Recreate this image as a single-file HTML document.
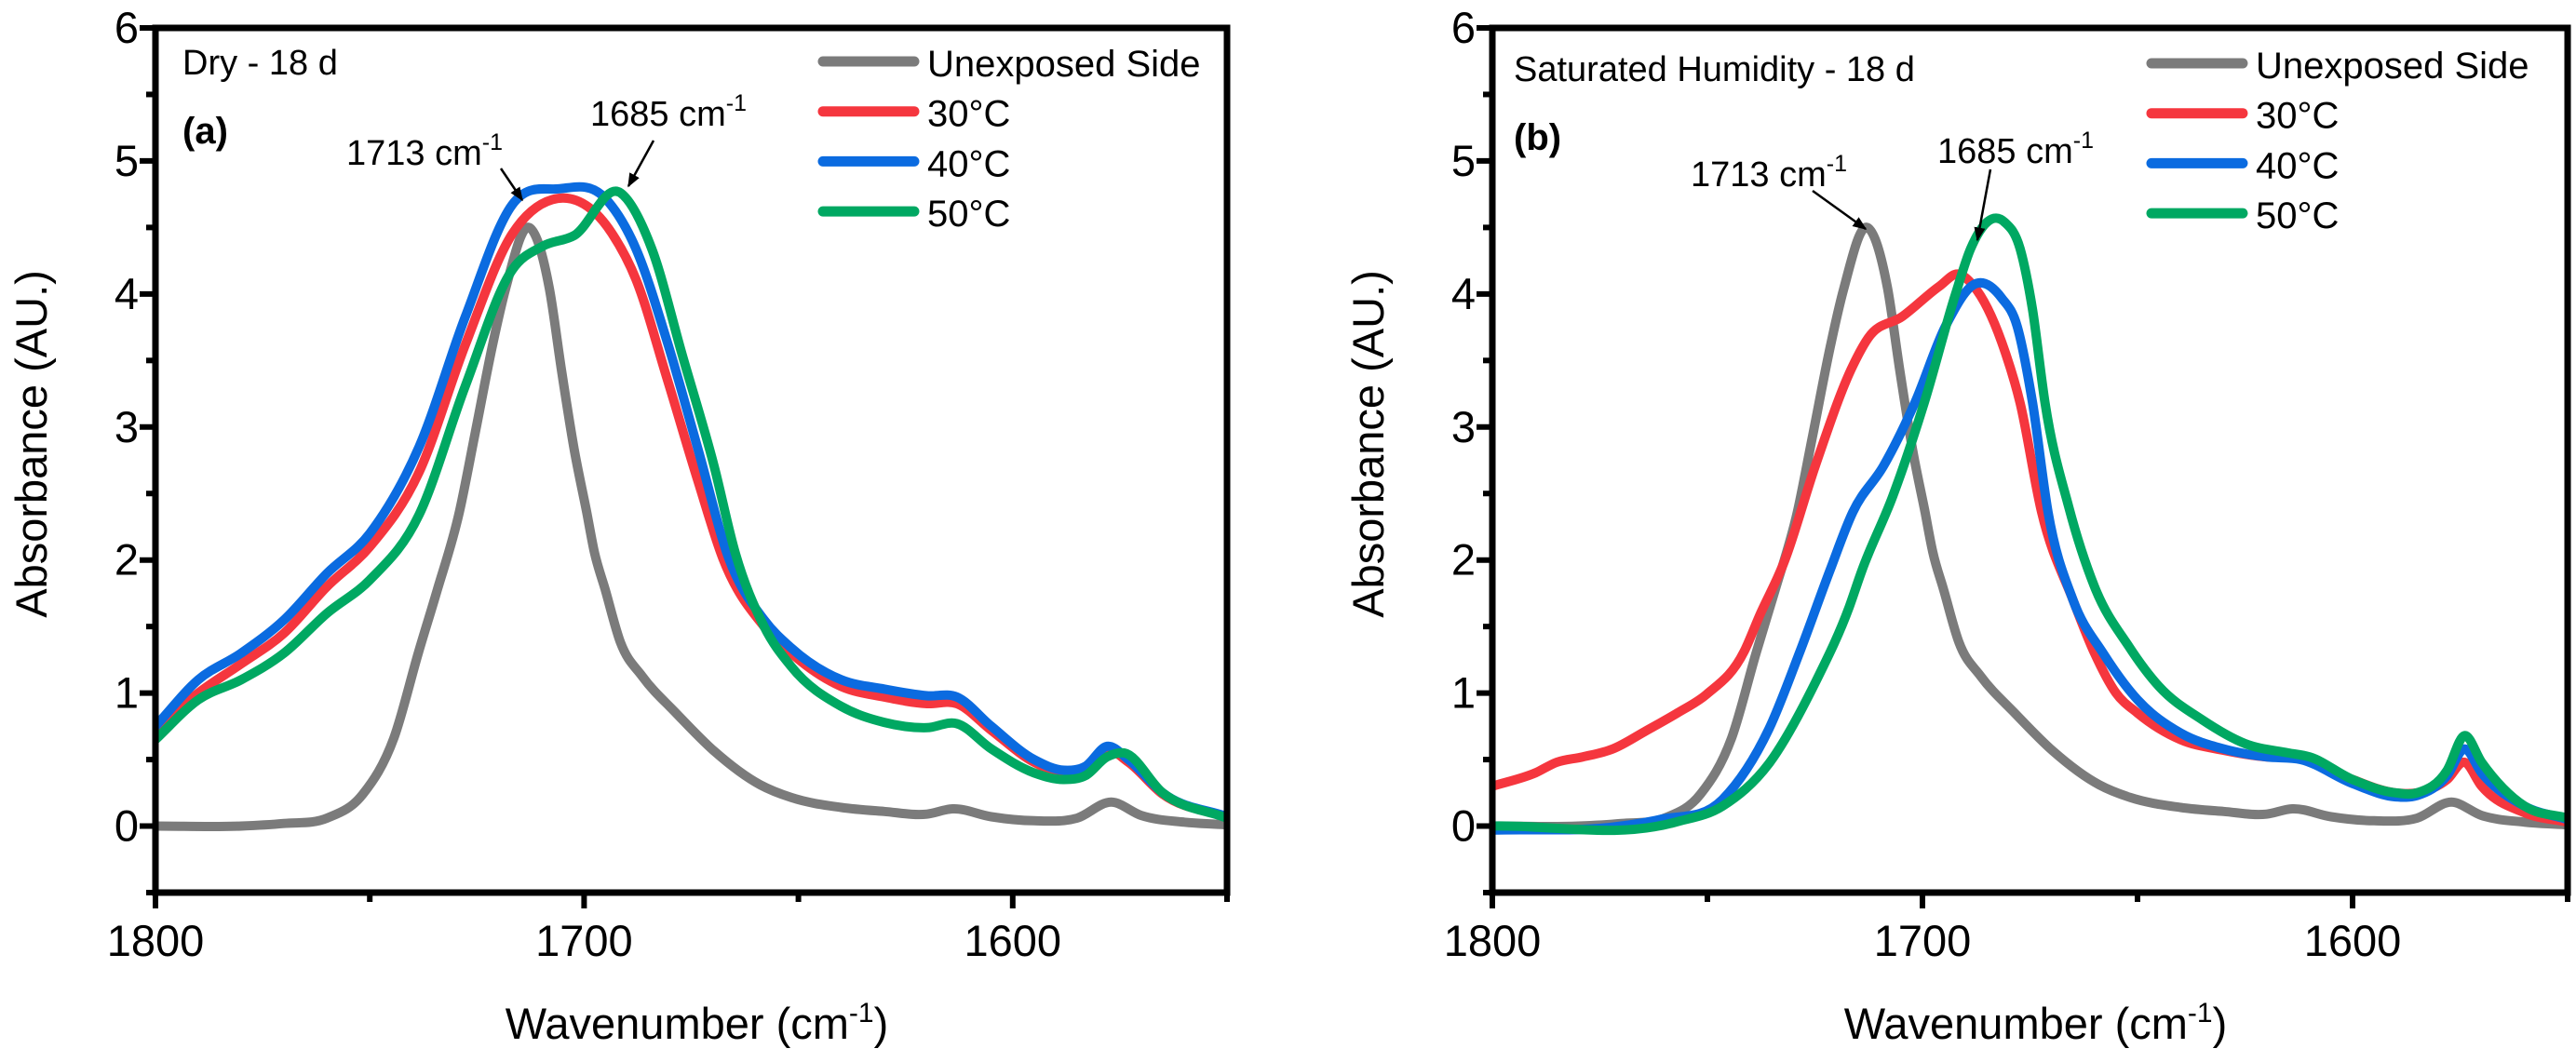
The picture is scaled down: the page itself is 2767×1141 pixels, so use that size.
<!DOCTYPE html>
<html><head><meta charset="utf-8">
<style>
html,body{margin:0;padding:0;background:#fff;}
svg text{font-family:"Liberation Sans",Arial,sans-serif;fill:#000;}
</style></head>
<body>
<svg id="chart" width="2767" height="1136" viewBox="0 0 2767 1136" xmlns="http://www.w3.org/2000/svg">
<defs>
<marker id="ah" viewBox="0 0 10 10" refX="9" refY="5" markerWidth="6" markerHeight="6" orient="auto"><path d="M0,1 L10,5 L0,9 z" fill="#000"/></marker>
</defs>
</svg>
<script>
const grayWn=[1800,1780,1770,1760,1751.6,1744.4,1738.6,1734.2,1729.1,1725.5,1721.2,1718.3,1712.8,1708.1,1705.2,1702.3,1699.4,1697.6,1695.1,1691.5,1686.4,1678.4,1669.7,1658.9,1651.7,1640,1630,1620,1614,1605,1595,1585,1577,1570,1560,1550];
const grayAbs=[0,0,0.02,0.06,0.24,0.66,1.31,1.78,2.36,2.94,3.64,4.04,4.5,4.04,3.41,2.83,2.36,2.06,1.78,1.38,1.125,0.845,0.565,0.31,0.215,0.14,0.11,0.09,0.13,0.07,0.04,0.06,0.18,0.08,0.03,0.01];
const aBlueWn=[1800,1790,1780,1770,1760,1750,1738.5,1727.7,1716.8,1706,1695.1,1687.9,1680.6,1673.4,1666.2,1658,1651.7,1640,1630,1620,1613,1605,1595,1588,1583,1578,1573,1565,1550];
const aBlueAbs=[0.75,1.1,1.3,1.55,1.9,2.2,2.85,3.83,4.67,4.79,4.72,4.34,3.64,2.83,2.01,1.55,1.34,1.1,1.03,0.98,0.97,0.75,0.5,0.42,0.45,0.6,0.5,0.25,0.07];
const aRedWn=[1800,1790,1780,1770,1760,1750,1738.5,1727.7,1716.8,1707.4,1693.6,1687.9,1680.6,1673.4,1667.6,1658,1651.7,1640,1630,1620,1613,1605,1595,1588,1583,1578,1573,1565,1550];
const aRedAbs=[0.72,1.0,1.22,1.45,1.8,2.1,2.66,3.62,4.45,4.71,4.46,4.11,3.36,2.59,2.01,1.5,1.3,1.05,0.97,0.92,0.92,0.72,0.48,0.4,0.43,0.57,0.48,0.24,0.07];
const aGreenWn=[1800,1790,1780,1770,1760,1750,1738.5,1727.7,1716.8,1709.6,1702.3,1691.5,1684.2,1677,1669.7,1664.7,1658,1651.7,1640,1630,1620,1613,1605,1595,1588,1583,1578,1574,1565,1550];
const aGreenAbs=[0.65,0.95,1.1,1.3,1.6,1.85,2.34,3.31,4.18,4.36,4.44,4.76,4.34,3.53,2.71,2.05,1.5,1.2,0.9,0.78,0.74,0.77,0.58,0.4,0.35,0.38,0.52,0.55,0.25,0.06];
const bRedWn=[1800,1790,1785,1779,1772,1764.6,1757,1750.2,1741.5,1737.9,1732.1,1724.9,1716.2,1712.6,1704.7,1696,1691.7,1688.1,1681.6,1677.3,1672.3,1665,1660,1655,1650,1640,1630,1620,1612,1600,1590,1585,1578,1574,1570,1560,1550];
const bRedAbs=[0.3,0.4,0.48,0.52,0.58,0.71,0.85,0.99,1.31,1.58,1.99,2.71,3.46,3.67,3.83,4.06,4.15,4.06,3.64,3.18,2.36,1.7,1.3,1.0,0.85,0.65,0.57,0.52,0.52,0.35,0.25,0.25,0.35,0.48,0.3,0.1,0.03];
const bBlueWn=[1800,1770,1761,1746.5,1735.7,1728.5,1721.3,1716.2,1709,1701.8,1694.6,1687.4,1681.6,1678,1674.4,1670.8,1665,1658,1650,1640,1630,1620,1612,1600,1590,1585,1578,1574,1570,1560,1550];
const bBlueAbs=[-0.03,0,0.05,0.2,0.73,1.31,1.94,2.36,2.71,3.18,3.76,4.08,3.97,3.76,3.18,2.36,1.7,1.3,0.95,0.7,0.58,0.52,0.5,0.32,0.22,0.23,0.38,0.58,0.4,0.15,0.05];
const bGreenWn=[1800,1757.4,1746.5,1735.7,1724.9,1717,1714.1,1706.9,1699.6,1692.4,1688.8,1680.9,1677.3,1674.4,1671.5,1666,1660,1652,1645,1635,1625,1615,1610,1600,1590,1585,1578,1574,1570,1560,1550];
const bGreenAbs=[0,0.03,0.15,0.47,1.08,1.65,1.92,2.48,3.18,3.99,4.34,4.54,4.34,3.88,3.18,2.4,1.8,1.35,1.05,0.8,0.62,0.55,0.52,0.35,0.25,0.25,0.42,0.68,0.48,0.15,0.06];
const yTicks=[0,1,2,3,4,5,6];
const xTicks=[1800,1700,1600];
const legendLabels=["Unexposed Side","30°C","40°C","50°C"];
const colors=["#7b7b7b","#f5363e","#0b6be0","#00a862"];

const NS="http://www.w3.org/2000/svg";
const svg=document.getElementById('chart');
function el(tag,attrs,parent){const e=document.createElementNS(NS,tag);for(const k in attrs)e.setAttribute(k,attrs[k]);(parent||svg).appendChild(e);return e;}
function smooth(pts){
 const n=pts.length,m=[];
 for(let i=0;i<n;i++){
  if(i===0){m.push((pts[1][1]-pts[0][1])/(pts[1][0]-pts[0][0]));continue;}
  if(i===n-1){m.push((pts[i][1]-pts[i-1][1])/(pts[i][0]-pts[i-1][0]));continue;}
  const h0=pts[i][0]-pts[i-1][0],h1=pts[i+1][0]-pts[i][0];
  const d0=(pts[i][1]-pts[i-1][1])/h0,d1=(pts[i+1][1]-pts[i][1])/h1;
  m.push((d0*h1+d1*h0)/(h0+h1));
 }
 let d="M"+pts[0][0].toFixed(1)+","+pts[0][1].toFixed(1);
 for(let i=0;i<n-1;i++){const h=pts[i+1][0]-pts[i][0];
  const c1=[pts[i][0]+h/3,pts[i][1]+m[i]*h/3],c2=[pts[i+1][0]-h/3,pts[i+1][1]-m[i+1]*h/3];
  d+=" C"+c1[0].toFixed(1)+","+c1[1].toFixed(1)+" "+c2[0].toFixed(1)+","+c2[1].toFixed(1)+" "+pts[i+1][0].toFixed(1)+","+pts[i+1][1].toFixed(1);}
 return d;}

function panel(cfg){
 const L=cfg.left,R=cfg.right,T=30,B=959;
 const xs=v=>L+(1800-v)/(250)*(R-L);
 const ys=v=>B-(v+0.5)/6.5*(B-T);
 const g=el('g',{});
 
 
 const clipId='clip'+cfg.id;
 const cp=el('clipPath',{id:clipId},g);el('rect',{x:L,y:T,width:R-L,height:B-T},cp);
 const series=cfg.series;
 series.forEach((s,i)=>{
  const pts=s[0].map((w,j)=>[xs(w),ys(s[1][j])]);
  const p=el('path',{d:smooth(pts),fill:'none',stroke:colors[i],'stroke-width':10,'stroke-linejoin':'round','clip-path':'url(#'+clipId+')'},g);
  
  
 });
 const fr=el('rect',{x:L,y:T,width:R-L,height:B-T,fill:'none',stroke:'#000','stroke-width':7},g);
 
 
 for(let v=-0.5;v<=6.01;v+=0.5){const major=Math.abs(v-Math.round(v))<0.01;
  el('line',{x1:L-(major?17:10),x2:L,y1:ys(v),y2:ys(v),stroke:'#000','stroke-width':6},g);}
 yTicks.forEach(v=>{const t=el('text',{x:L-18,y:ys(v)+16,'font-size':47,'text-anchor':'end'},g);t.textContent=v;
  
  });
 for(let v=1800;v>=1550;v-=50){const major=v%100===0;
  el('line',{x1:xs(v),x2:xs(v),y1:B,y2:B+(major?17:10),stroke:'#000','stroke-width':6},g);}
 xTicks.forEach(v=>{const t=el('text',{x:xs(v),y:1027,'font-size':47,'text-anchor':'middle'},g);t.textContent=v;
  
  });
 const yt=el('text',{x:0,y:0,'font-size':47,'text-anchor':'middle',transform:'translate('+(L-117)+',477) rotate(-90)'},g);
 yt.textContent='Absorbance (AU.)';
 
 
 const xt=el('text',{x:(L+R)/2+6,y:1116,'font-size':47,'text-anchor':'middle'},g);
 xt.innerHTML='Wavenumber (cm<tspan dy="-18" font-size="30">-1</tspan><tspan dy="18">)</tspan>';
 
 
 legendLabels.forEach((lab,i)=>{const y=cfg.legY+i*53.7;
  const ln=el('line',{x1:cfg.legX,x2:cfg.legX+98,y1:y,y2:y,stroke:colors[i],'stroke-width':11,'stroke-linecap':'round'},g);
  
  
  const t=el('text',{x:cfg.legX+112,y:y+16,'font-size':40},g);t.textContent=lab;
  
  });
 const c=el('text',{x:cfg.condX,y:cfg.condY,'font-size':38},g);c.textContent=cfg.cond;
 
 
 const pl=el('text',{x:cfg.condX,y:cfg.condY+74,'font-size':40,'font-weight':'bold'},g);pl.textContent=cfg.letter;
 
 
 cfg.ann.forEach(a=>{const t=el('text',{x:a.tx,y:a.ty,'font-size':38},g);
  t.innerHTML=a.txt+' cm<tspan dy="-16" font-size="25">-1</tspan>';
  
  
  const ar=el('line',{x1:a.x1,y1:a.y1,x2:a.x2,y2:a.y2,stroke:'#000','stroke-width':2.5,'marker-end':'url(#ah)'},g);
  
  });
}
panel({id:'a',left:167,right:1318,legX:884,legY:66,condX:196,condY:80,cond:'Dry - 18 d',letter:'(a)',
 series:[[grayWn,grayAbs],[aRedWn,aRedAbs],[aBlueWn,aBlueAbs],[aGreenWn,aGreenAbs]],
 ann:[{txt:'1713',tx:372,ty:177,x1:538,y1:181,x2:561,y2:215},{txt:'1685',tx:634,ty:135,x1:702,y1:151,x2:675,y2:200}]});
panel({id:'b',left:1603,right:2758,legX:2311,legY:68,condX:1626,condY:87,cond:'Saturated Humidity - 18 d',letter:'(b)',
 series:[[grayWn,grayAbs],[bRedWn,bRedAbs],[bBlueWn,bBlueAbs],[bGreenWn,bGreenAbs]],
 ann:[{txt:'1713',tx:1816,ty:200,x1:1947,y1:205,x2:2004,y2:246},{txt:'1685',tx:2081,ty:175,x1:2138,y1:182,x2:2124,y2:258}]});
</script>
</body></html>
